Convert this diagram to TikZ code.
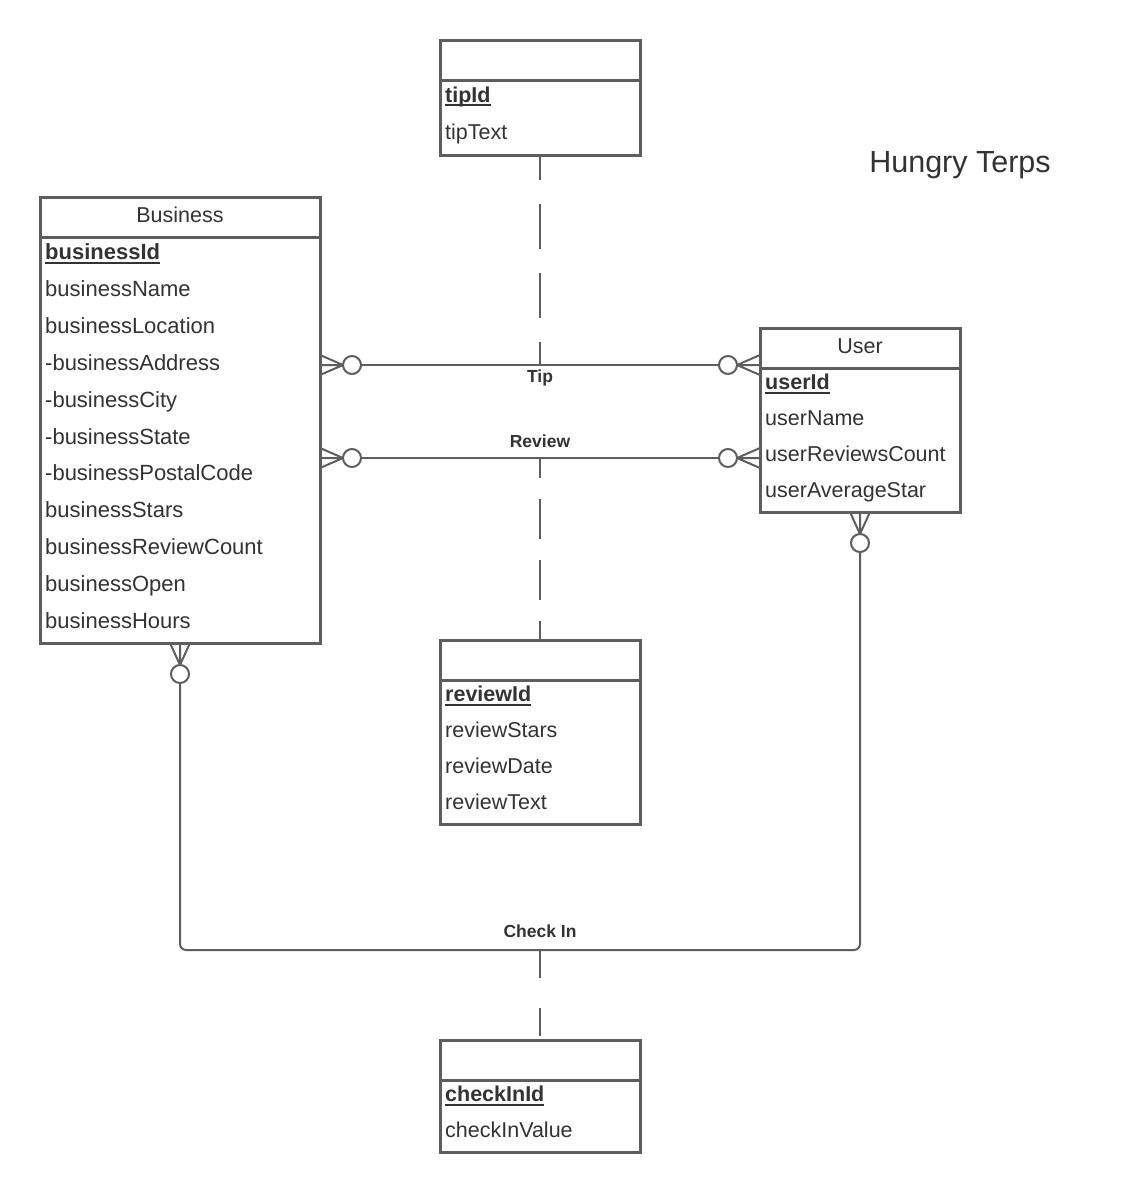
\documentclass[tikz,border=0pt]{standalone}
\usepackage{fontspec}
\setmainfont{Liberation Sans}
\usetikzlibrary{positioning}
\definecolor{linegray}{HTML}{5E5E5E}
\definecolor{textgray}{HTML}{333333}
\newsavebox{\keybox}
\newcommand{\pkey}[1]{\sbox{\keybox}{\textbf{#1}}\rlap{\rule[-4pt]{\wd\keybox}{1.8pt}}\usebox{\keybox}}

\begin{document}
\begin{tikzpicture}[
    x=1pt, y=-1pt,
    entHead/.style={rectangle, draw=linegray, line width=3pt, anchor=north west, minimum height=40pt, inner sep=0pt, outer sep=0pt, font=\fontsize{21.5}{26}\selectfont, text=textgray, text height=15.5pt, text depth=5.5pt},
    entBody/.style={rectangle, draw=linegray, line width=3pt, inner sep=0pt, outer sep=0pt},
    field/.style={anchor=base west, inner sep=0pt, font=\fontsize{21.5}{26}\selectfont, text=textgray},
    zm/.style={circle, draw=linegray, line width=2pt, fill=white, minimum size=18pt, inner sep=0pt, outer sep=0pt},
    rel/.style={draw=linegray, line width=2pt},
    foot/.style={draw=linegray, line width=2pt},
    ident/.style={draw=linegray, line width=2pt},
    relLabel/.style={inner sep=0pt, font=\fontsize{17.5}{21}\selectfont\bfseries, text=textgray},
    title/.style={anchor=base, inner sep=0pt, font=\fontsize{30.5}{36}\selectfont, text=textgray}
]
\fill[white] (0,0) rectangle (1140,1192);

% entities
\node[entHead, minimum width=280pt] (bizHead) at (40,197) {Business};
\node[entBody, minimum width=280pt, minimum height=406pt, below=0pt of bizHead] (bizBody) {};
\foreach \f [count=\i from 0] in {{\pkey{businessId}}, businessName, businessLocation, -businessAddress, -businessCity, -businessState, -businessPostalCode, businessStars, businessReviewCount, businessOpen, businessHours}
    \node[field, font=\fontsize{22}{26}\selectfont] (bizF\i) at ([xshift=5pt, yshift={-22.5pt-36.9pt*\i}] bizBody.north west) {\f};

\node[entHead, minimum width=200pt] (tipHead) at (440,40) {};
\node[entBody, minimum width=200pt, minimum height=75pt, below=0pt of tipHead] (tipBody) {};
\foreach \f [count=\i from 0] in {{\pkey{tipId}}, tipText}
    \node[field] (tipF\i) at ([xshift=5pt, yshift={-22pt-37pt*\i}] tipBody.north west) {\f};

\node[entHead, minimum width=200pt] (userHead) at (760,328) {User};
\node[entBody, minimum width=200pt, minimum height=144pt, below=0pt of userHead] (userBody) {};
\foreach \f [count=\i from 0] in {{\pkey{userId}}, userName, userReviewsCount, userAverageStar}
    \node[field] (userF\i) at ([xshift=5pt, yshift={-21.5pt-36pt*\i}] userBody.north west) {\f};

\node[entHead, minimum width=200pt] (revHead) at (440,640) {};
\node[entBody, minimum width=200pt, minimum height=144pt, below=0pt of revHead] (revBody) {};
\foreach \f [count=\i from 0] in {{\pkey{reviewId}}, reviewStars, reviewDate, reviewText}
    \node[field] (revF\i) at ([xshift=5pt, yshift={-21.5pt-36pt*\i}] revBody.north west) {\f};

\node[entHead, minimum width=200pt] (ciHead) at (440,1040) {};
\node[entBody, minimum width=200pt, minimum height=72pt, below=0pt of ciHead] (ciBody) {};
\foreach \f [count=\i from 0] in {{\pkey{checkInId}}, checkInValue}
    \node[field] (ciF\i) at ([xshift=5pt, yshift={-21.5pt-36pt*\i}] ciBody.north west) {\f};

\node[title] (title) at (960,172.5) {Hungry Terps};

% Tip
\coordinate (tipY) at (0,365);
\coordinate (bizTip) at (bizBody.east |- tipY);
\coordinate (userTip) at (userHead.west |- tipY);
\node[zm, right=23pt of bizTip] (tipL) {};
\node[zm, left=23pt of userTip] (tipR) {};
\draw[foot] (tipL.west) -- ([yshift=10pt]bizTip) (tipL.west) -- (bizTip) (tipL.west) -- ([yshift=-10pt]bizTip);
\draw[foot] (tipR.east) -- ([yshift=10pt]userTip) (tipR.east) -- (userTip) (tipR.east) -- ([yshift=-10pt]userTip);
\draw[rel] (tipL) -- coordinate[pos=0.5] (tipMid) (tipR);
\node[relLabel, below=5pt of tipMid] (tipLbl) {Tip};
\draw[ident, dash pattern=on 45pt off 24pt, dash phase=20pt] (tipBody) -- (tipMid);

% Review
\coordinate (revY) at (0,458);
\coordinate (bizRev) at (bizBody.east |- revY);
\coordinate (userRev) at (userBody.west |- revY);
\node[zm, right=23pt of bizRev] (revL) {};
\node[zm, left=23pt of userRev] (revR) {};
\draw[foot] (revL.west) -- ([yshift=10pt]bizRev) (revL.west) -- (bizRev) (revL.west) -- ([yshift=-10pt]bizRev);
\draw[foot] (revR.east) -- ([yshift=10pt]userRev) (revR.east) -- (userRev) (revR.east) -- ([yshift=-10pt]userRev);
\draw[rel] (revL) -- coordinate[pos=0.5] (revMid) (revR);
\node[relLabel, above=10pt of revMid] (revLbl) {Review};
\draw[ident, dash pattern=on 40pt off 21pt, dash phase=20pt] (revMid) -- (revHead);

% Check In
\coordinate (ciY) at (0,950);
\node[zm, below=22pt of bizBody.south] (ciL) {};
\node[zm, below=22pt of userBody.south] (ciR) {};
\draw[foot] (ciL.north) -- ([xshift=-10pt]bizBody.south) (ciL.north) -- (bizBody.south) (ciL.north) -- ([xshift=10pt]bizBody.south);
\draw[foot] (ciR.north) -- ([xshift=-10pt]userBody.south) (ciR.north) -- (userBody.south) (ciR.north) -- ([xshift=10pt]userBody.south);
\draw[rel, rounded corners=6pt] (ciL) -- (ciL |- ciY) -- (ciR |- ciY) -- (ciR);
\coordinate (ciMid) at (ciHead.north |- ciY);
\node[relLabel, above=12pt of ciMid] (ciLbl) {Check In};
\draw[ident, dash pattern=on 28pt off 30pt] (ciMid) -- (ciHead);
\end{tikzpicture}
\end{document}
